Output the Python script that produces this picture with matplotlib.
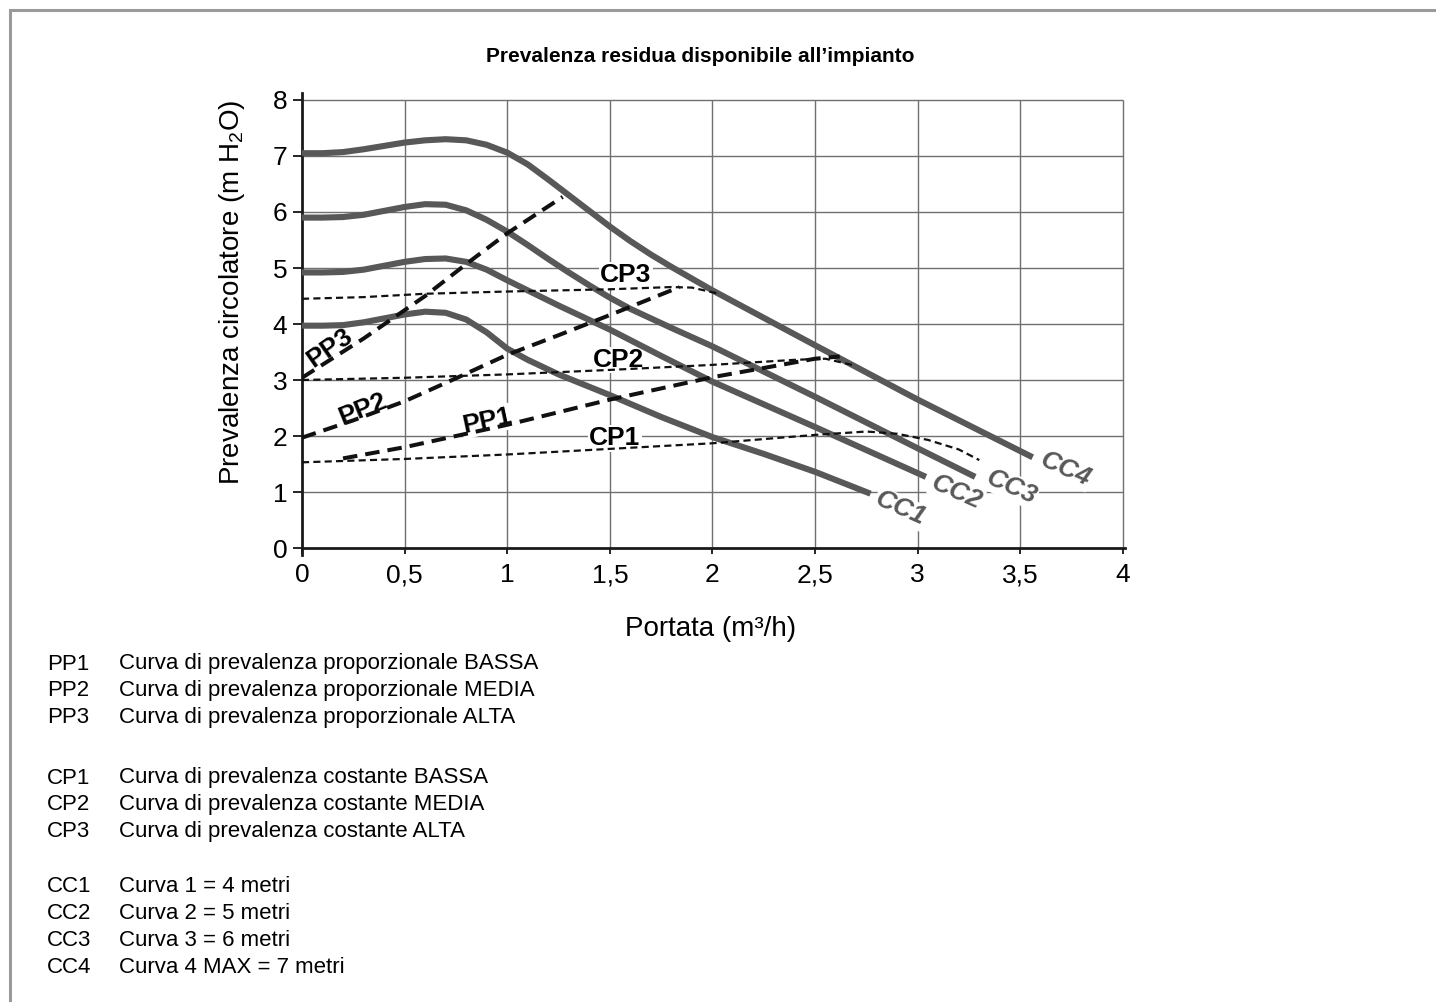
import numpy as np
import matplotlib.pyplot as plt
from matplotlib.patches import Rectangle

plt.rcParams['font.family'] = ['Liberation Sans', 'DejaVu Sans']
plt.rcParams['mathtext.fontset'] = 'custom'
plt.rcParams['mathtext.rm'] = 'Liberation Sans'
plt.rcParams['mathtext.it'] = 'Liberation Sans:italic'
plt.rcParams['mathtext.bf'] = 'Liberation Sans:bold'

# circulator curves CC1..CC4 (flow m3/h, head m H2O)
cc1_q = [0, 0.1, 0.2, 0.3, 0.4, 0.5, 0.6, 0.7, 0.8, 0.9, 1.0, 1.1, 1.25, 1.5, 1.75, 2.0, 2.25, 2.5, 2.77]
cc1_h = [3.97, 3.97, 3.98, 4.03, 4.1, 4.17, 4.22, 4.2, 4.08, 3.85, 3.56, 3.36, 3.1, 2.73, 2.34, 1.98, 1.68, 1.36, 0.97]
cc2_q = [0, 0.1, 0.2, 0.3, 0.4, 0.5, 0.6, 0.7, 0.8, 0.9, 1.0, 1.1, 1.25, 1.5, 1.75, 2.0, 2.5, 3.04]
cc2_h = [4.92, 4.92, 4.93, 4.97, 5.04, 5.11, 5.16, 5.17, 5.11, 4.97, 4.78, 4.6, 4.33, 3.9, 3.43, 2.97, 2.16, 1.27]
cc3_q = [0, 0.1, 0.2, 0.3, 0.4, 0.5, 0.6, 0.7, 0.8, 0.9, 1.0, 1.1, 1.2, 1.3, 1.4, 1.5, 1.6, 1.8, 2.0, 2.5, 3.0, 3.28]
cc3_h = [5.9, 5.9, 5.91, 5.95, 6.02, 6.09, 6.14, 6.13, 6.03, 5.86, 5.65, 5.41, 5.16, 4.92, 4.69, 4.47, 4.27, 3.93, 3.6, 2.7, 1.78, 1.27]
cc4_q = [0, 0.1, 0.2, 0.3, 0.4, 0.5, 0.6, 0.7, 0.8, 0.9, 1.0, 1.1, 1.2, 1.3, 1.4, 1.5, 1.6, 1.7, 1.8, 2.0, 2.5, 3.0, 3.56]
cc4_h = [7.05, 7.05, 7.07, 7.12, 7.18, 7.24, 7.28, 7.3, 7.28, 7.2, 7.06, 6.85, 6.58, 6.3, 6.02, 5.74, 5.48, 5.24, 5.02, 4.6, 3.62, 2.65, 1.62]

# proportional head curves PP1..PP3
pp1_q = [0.2, 0.5, 1.0, 1.5, 2.0, 2.5, 2.62]
pp1_h = [1.6, 1.8, 2.2, 2.65, 3.05, 3.38, 3.42]
pp2_q = [0, 0.25, 0.5, 0.75, 1.0, 1.25, 1.5, 1.84]
pp2_h = [1.97, 2.28, 2.62, 3.03, 3.45, 3.8, 4.16, 4.66]
pp3_q = [0, 0.3, 0.6, 0.8, 1.0, 1.27]
pp3_h = [3.04, 3.74, 4.5, 5.07, 5.62, 6.27]

# constant head curves CP1..CP3
cp1_q = [0, 0.5, 1.0, 1.5, 2.0, 2.5, 2.75, 2.9, 3.05, 3.2, 3.3]
cp1_h = [1.53, 1.59, 1.67, 1.77, 1.87, 2.02, 2.08, 2.04, 1.93, 1.76, 1.57]
cp2_q = [0, 0.5, 1.0, 1.5, 2.0, 2.4, 2.55, 2.68]
cp2_h = [3.0, 3.04, 3.1, 3.18, 3.27, 3.36, 3.38, 3.27]
cp3_q = [0, 0.3, 0.6, 1.0, 1.5, 1.8, 1.9, 2.02]
cp3_h = [4.45, 4.48, 4.54, 4.58, 4.62, 4.66, 4.65, 4.55]

x_ticks = [0, 0.5, 1, 1.5, 2, 2.5, 3, 3.5, 4]
x_labels = ['0', '0,5', '1', '1,5', '2', '2,5', '3', '3,5', '4']
y_ticks = [0, 1, 2, 3, 4, 5, 6, 7, 8]

legend_codes = [['PP1', 'PP2', 'PP3'], ['CP1', 'CP2', 'CP3'], ['CC1', 'CC2', 'CC3', 'CC4']]
legend_texts = [
    ['Curva di prevalenza proporzionale BASSA',
     'Curva di prevalenza proporzionale MEDIA',
     'Curva di prevalenza proporzionale ALTA'],
    ['Curva di prevalenza costante BASSA',
     'Curva di prevalenza costante MEDIA',
     'Curva di prevalenza costante ALTA'],
    ['Curva 1 = 4 metri', 'Curva 2 = 5 metri', 'Curva 3 = 6 metri', 'Curva 4 MAX = 7 metri'],
]

W, H = 1436, 1002
fig = plt.figure(figsize=(W / 100, H / 100), dpi=100)


def fx(px):
    return px / W


def fy(py):
    return 1 - py / H


# outer frame (only top and left edges visible)
fig.add_artist(Rectangle((fx(10), -0.1), 1.2, fy(10) + 0.1, transform=fig.transFigure,
                         fill=False, edgecolor='#9a9a9a', lw=2.2))

ax = fig.add_axes([fx(302), fy(555), (1125 - 302) / W, (555 - 93) / H])
ax.set_xlim(0, 4.01)
ax.set_ylim(-0.125, 8.125)
ax.patch.set_alpha(0)

for s in ['top', 'right']:
    ax.spines[s].set_visible(False)
ax.spines['bottom'].set_position(('data', 0))
for s in ['left', 'bottom']:
    ax.spines[s].set_linewidth(2.0)
    ax.spines[s].set_color('#1a1a1a')

ax.hlines(y_ticks[1:], 0, 4, colors='#707070', lw=1.0, zorder=1)
ax.vlines(x_ticks[1:], 0, 8, colors='#707070', lw=1.0, zorder=1)

ax.set_xticks(x_ticks)
ax.set_xticklabels(x_labels)
ax.set_yticks(y_ticks)
ax.tick_params(axis='x', direction='out', length=4, width=1.2, pad=7, labelsize=19)
ax.tick_params(axis='y', direction='out', length=6.5, width=1.2, pad=4, labelsize=19)

cc_color = '#585858'
for q, h in [(cc1_q, cc1_h), (cc2_q, cc2_h), (cc3_q, cc3_h), (cc4_q, cc4_h)]:
    ax.plot(q, h, color=cc_color, lw=4.4, solid_capstyle='butt', solid_joinstyle='round', zorder=3)
for q, h in [(cp1_q, cp1_h), (cp2_q, cp2_h), (cp3_q, cp3_h)]:
    ax.plot(q, h, color='#111111', lw=1.6, ls=(0, (3.2, 1.9)), zorder=4)
for q, h in [(pp1_q, pp1_h), (pp2_q, pp2_h), (pp3_q, pp3_h)]:
    ax.plot(q, h, color='#111111', lw=2.9, ls=(0, (3.6, 2.0)), zorder=5)

box = dict(facecolor='white', edgecolor='none', pad=1.0)
curve_labels = [
    ('CP3', 1.578, 4.875, 0, 'black', 'normal'),
    ('CP2', 1.544, 3.36, 0, 'black', 'normal'),
    ('CP1', 1.525, 1.96, 0, 'black', 'normal'),
    ('PP1', 0.90, 2.27, 12, 'black', 'normal'),
    ('PP2', 0.294, 2.48, 22, 'black', 'normal'),
    ('PP3', 0.137, 3.57, 35, 'black', 'normal'),
    ('CC1', 2.917, 0.70, -24, cc_color, 'italic'),
    ('CC2', 3.19, 1.0, -24, cc_color, 'italic'),
    ('CC3', 3.456, 1.09, -24, cc_color, 'italic'),
    ('CC4', 3.72, 1.41, -24, cc_color, 'italic'),
]
for txt, q, h, rot, col, style in curve_labels:
    ax.text(q, h, txt, fontsize=19, fontweight='bold', fontstyle=style, color=col,
            rotation=rot, rotation_mode='anchor', ha='center', va='center',
            bbox=box, zorder=2)

fig.text(fx(700), fy(57), 'Prevalenza residua disponibile all\u2019impianto',
         ha='center', va='center', fontsize=15, fontweight='bold')
fig.text(fx(711), fy(629), 'Portata (m\u00b3/h)', ha='center', va='center', fontsize=20)
fig.text(fx(232), fy(292), 'Prevalenza circolatore (m H$_2$O)', ha='center', va='center',
         rotation=90, fontsize=20)

group_y = [664, 778, 887]
for y0, codes, texts in zip(group_y, legend_codes, legend_texts):
    for i, (code, text) in enumerate(zip(codes, texts)):
        row_y = y0 + 26.8 * i
        fig.text(fx(47), fy(row_y), code, ha='left', va='center', fontsize=16)
        fig.text(fx(119), fy(row_y), text, ha='left', va='center', fontsize=16)

fig.savefig('out.png', dpi=100)
